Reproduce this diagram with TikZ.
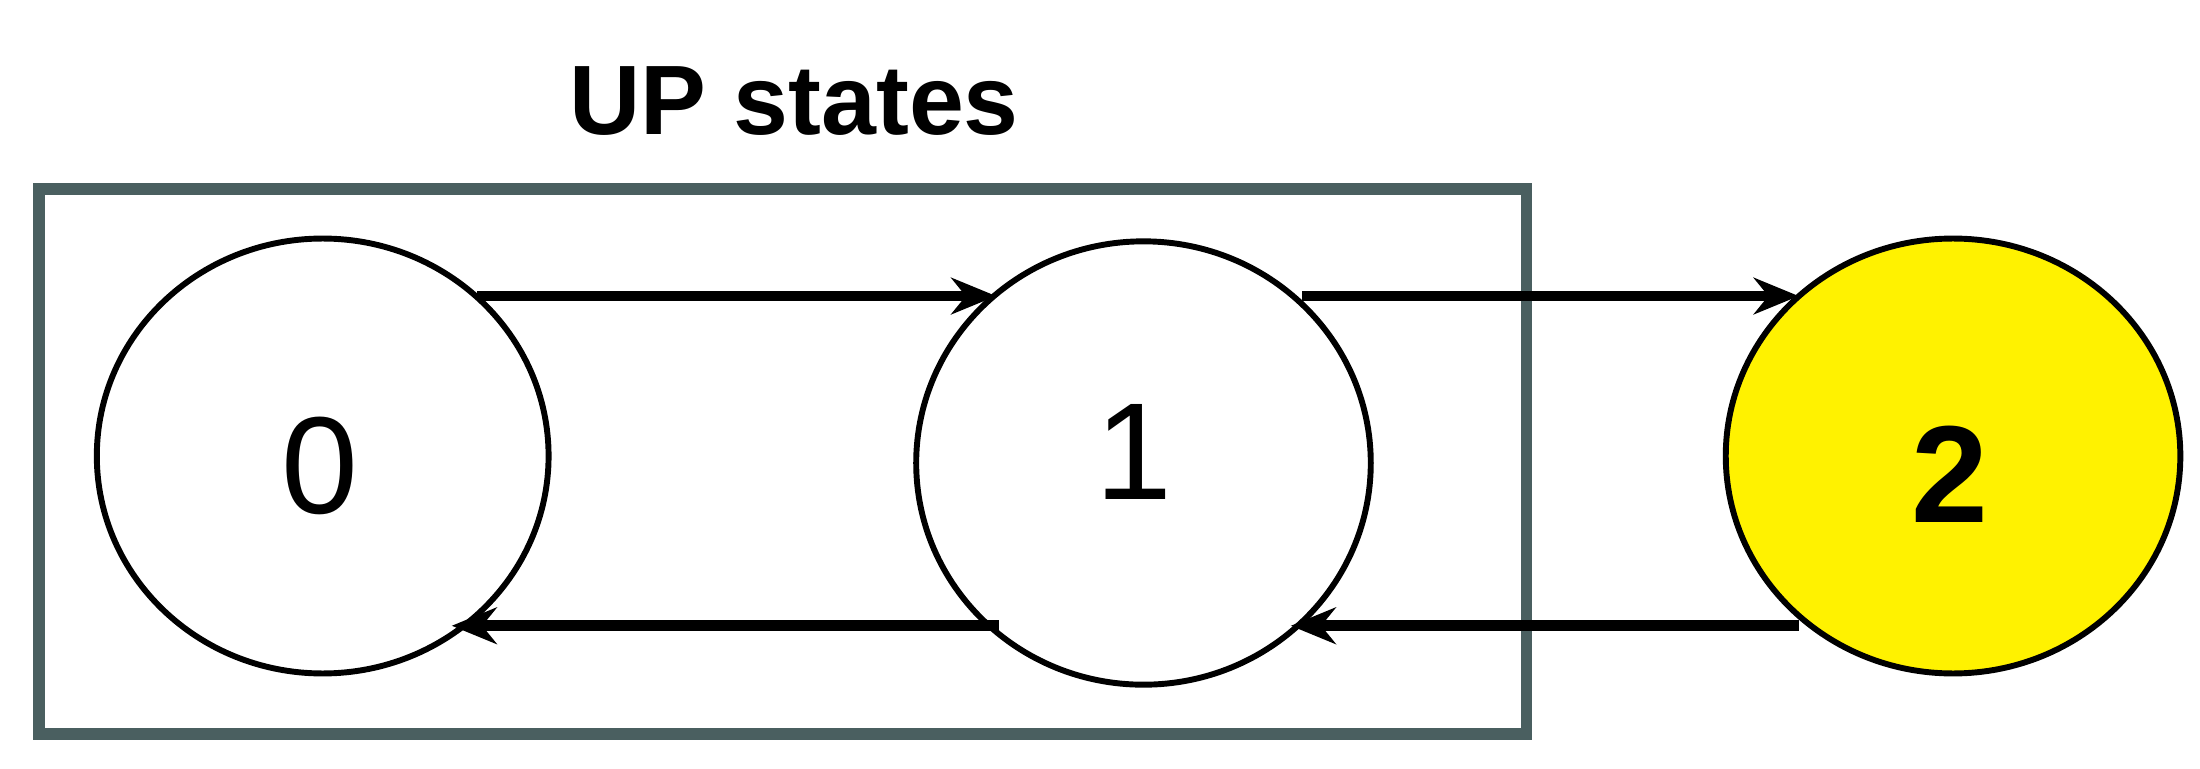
\documentclass[tikz,border=0pt]{standalone}
\usepackage{fontspec}
\setmainfont{Liberation Sans}
\usetikzlibrary{arrows.meta}
\begin{document}
\begin{tikzpicture}[x=0.01cm,y=-0.01cm,
  st/.style={draw=black,line width=1.2pt,ellipse},
  arr/.style={line width=2.2pt,-{Stealth[length=0.32cm,width=0.26cm]}}]
\useasboundingbox (0,0) rectangle (1568,548);
\definecolor{boxc}{HTML}{4A5F60}
\node (title) at (566,72) {\fontsize{20}{24}\selectfont\bfseries UP states};
\draw[boxc,line width=2.4pt] (28,135) rectangle (1088,523);
\draw[line width=1.2pt] (230,325) ellipse [x radius=161, y radius=155];
\draw[line width=1.2pt] (815,330) ellipse [x radius=162, y radius=158];
\draw[line width=1.2pt,fill=yellow] (1392,325) ellipse [x radius=162, y radius=155];
\node (n0) at (228,332) {\fontsize{28}{30}\selectfont 0};
\node (n1) at (808,322) {\fontsize{28}{30}\selectfont 1};
\node (n2) at (1390,338) {\fontsize{28}{30}\selectfont\bfseries 2};
\coordinate (a1) at (340,211); \coordinate (b1) at (710,211);
\coordinate (a2) at (928,211); \coordinate (b2) at (1282,211);
\coordinate (c1) at (712,446); \coordinate (d1) at (322,446);
\coordinate (c2) at (1282,446); \coordinate (d2) at (920,446);
\draw[arr] (a1) -- (b1);
\draw[arr] (a2) -- (b2);
\draw[arr] (c1) -- (d1);
\draw[arr] (c2) -- (d2);
\end{tikzpicture}
\end{document}
